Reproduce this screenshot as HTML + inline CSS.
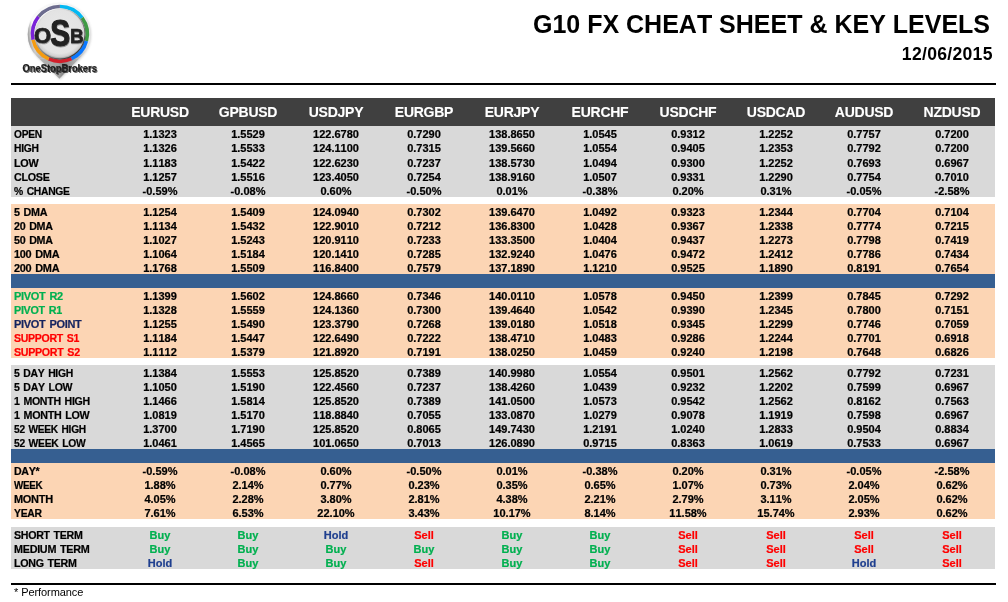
<!DOCTYPE html>
<html lang="en"><head><meta charset="utf-8"><title>G10 FX Cheat Sheet &amp; Key Levels</title>
<style>
html,body{margin:0;padding:0;background:#fff}
body{width:1008px;height:602px;position:relative;overflow:hidden;font-family:"Liberation Sans",Arial,sans-serif;font-weight:bold;color:#000;font-kerning:none}
.logo{position:absolute;left:0;top:0}
.title{position:absolute;right:18px;top:7px;font-size:25px;line-height:34px;white-space:nowrap}
.date{position:absolute;right:15.3px;top:42px;font-size:17.6px;line-height:24px;white-space:nowrap;letter-spacing:0.28px}
.rule{position:absolute;left:11px;width:985px;height:2px;background:#000}
.hd{position:absolute;left:11px;top:98px;width:984px;height:28px;background:#404040;color:#fff;font-size:14px;line-height:28px}
.hd span{position:absolute;top:0;width:88px;text-align:center;letter-spacing:-0.25px;-webkit-text-stroke:0.12px}
.sec{position:absolute;left:11px;width:984px}
.r{position:relative;width:984px;font-size:11px;white-space:nowrap;-webkit-text-stroke:0.22px}
.r b{position:absolute;left:3.3px;top:1px;font-weight:bold;letter-spacing:-0.3px;transform-origin:0 50%;display:block}
.r i{position:absolute;top:1px;width:88px;text-align:center;font-style:normal}
.foot{position:absolute;left:14px;top:585px;font-size:11px;line-height:14px;font-weight:normal;letter-spacing:-0.08px}
</style></head><body>
<svg class="logo" width="200" height="92" viewBox="0 0 200 92">
<defs>
<radialGradient id="disc" cx="50%" cy="46%" r="52%"><stop offset="0" stop-color="#e9e9e9"/><stop offset="0.82" stop-color="#e3e3e3"/><stop offset="0.94" stop-color="#cfcfcf"/><stop offset="1" stop-color="#9a9a9a"/></radialGradient>
<linearGradient id="pin" x1="0" y1="0.35" x2="1" y2="0.25"><stop offset="0" stop-color="#a4a4a4"/><stop offset="0.035" stop-color="#c9c9c9"/><stop offset="0.075" stop-color="#fafafa"/><stop offset="0.9" stop-color="#f4f4f4"/><stop offset="1" stop-color="#e4e4e4"/></linearGradient>
<linearGradient id="tip" x1="0" y1="0" x2="1" y2="0"><stop offset="0" stop-color="#7d7d7d"/><stop offset="0.12" stop-color="#b9b9b9"/><stop offset="0.5" stop-color="#a2a2a2"/><stop offset="0.55" stop-color="#8a8a8a"/><stop offset="0.9" stop-color="#c4c4c4"/><stop offset="1" stop-color="#d4d4d4"/></linearGradient>
<linearGradient id="bev" x1="0.15" y1="0.1" x2="0.8" y2="0.95"><stop offset="0" stop-color="#ffffff" stop-opacity="0.9"/><stop offset="0.45" stop-color="#9a9a9a"/><stop offset="1" stop-color="#333333"/></linearGradient>
<linearGradient id="fade" x1="0" y1="0" x2="0" y2="1"><stop offset="0" stop-color="#fff" stop-opacity="0"/><stop offset="1" stop-color="#fff" stop-opacity="1"/></linearGradient>
<mask id="tipm" maskUnits="userSpaceOnUse" x="0" y="0" width="200" height="92"><rect x="20" y="36.3" width="80" height="22" fill="url(#fade)"/><rect x="20" y="58.2" width="80" height="30" fill="#fff"/></mask>
<filter id="sh" x="-20%" y="-20%" width="140%" height="140%"><feGaussianBlur stdDeviation="1"/></filter>
<filter id="ts" x="-10%" y="-40%" width="120%" height="200%"><feGaussianBlur stdDeviation="0.6"/></filter>
<filter id="ls" x="-20%" y="-20%" width="140%" height="140%"><feGaussianBlur stdDeviation="0.5"/></filter>
</defs>
<path d="M59.4 78.8L37.00 56.61A31.4 31.4 0 1 1 81.50 56.31Z" fill="#9a9a9a" opacity="0.45" filter="url(#sh)" transform="translate(0.6,0.8)"/>
<path d="M59.4 78.8L37.00 56.61A31.4 31.4 0 1 1 81.50 56.31Z" fill="url(#pin)"/>
<path d="M59.4 78.8L37.00 56.61A31.4 31.4 0 0 1 27.80 36.30L90.40 36.30A31.4 31.4 0 0 1 81.50 56.31Z" fill="url(#tip)" mask="url(#tipm)"/>
<path d="M59.90 6.60A27.3 27.3 0 0 1 81.99 17.85" stroke="#04b8f2" stroke-width="3.8" fill="none"/><path d="M81.99 17.85A27.3 27.3 0 0 1 86.27 40.97" stroke="#3f9a45" stroke-width="3.8" fill="none"/><path d="M86.27 40.97A27.3 27.3 0 0 1 71.44 58.64" stroke="#0a78ff" stroke-width="3.8" fill="none"/><path d="M71.44 58.64A27.3 27.3 0 0 1 48.80 58.84" stroke="#d21f2b" stroke-width="3.8" fill="none"/><path d="M48.80 58.84A27.3 27.3 0 0 1 33.20 39.58" stroke="#f59b10" stroke-width="3.8" fill="none"/><path d="M33.20 39.58A27.3 27.3 0 0 1 38.68 16.72" stroke="#7a22d8" stroke-width="3.8" fill="none"/><path d="M38.68 16.72A27.3 27.3 0 0 1 59.90 6.60" stroke="#6c6c8e" stroke-width="3.8" fill="none"/>
<circle cx="59.9" cy="33.9" r="25.4" fill="url(#disc)"/>
<circle cx="59.9" cy="33.9" r="25.1" fill="none" stroke="url(#bev)" stroke-width="1.1"/>
<g font-family="'Liberation Sans',sans-serif" font-weight="bold" font-size="20" fill="#000" stroke="#000" stroke-width="0.6" stroke-linejoin="round" opacity="0.35" filter="url(#ls)">
<text transform="translate(34.5,43.6) scale(1.1,1.125)">O</text>
<text transform="translate(50.63,46.76) scale(1.488,1.885)">S</text>
<text transform="translate(70.45,43.64) scale(0.95,1.05)">B</text>
</g>
<g font-family="'Liberation Sans',sans-serif" font-weight="bold" font-size="20" fill="#222" stroke="#222" stroke-width="0.6" stroke-linejoin="round">
<text transform="translate(34.1,42.8) scale(1.1,1.125)">O</text>
<text transform="translate(50.23,45.96) scale(1.488,1.885)">S</text>
<text transform="translate(70.05,42.84) scale(0.95,1.05)">B</text>
</g>
<g font-family="'Liberation Sans',sans-serif" font-weight="bold" font-size="10.3">
<text transform="translate(23.6,72.7) scale(0.908,1)" fill="#000" opacity="0.6" filter="url(#ts)">OneStopBrokers</text>
<text transform="translate(22.6,71.6) scale(0.908,1)" fill="#1e1e1e" stroke="#1e1e1e" stroke-width="0.25">OneStopBrokers</text>
</g>
</svg><div class="title">G10 FX CHEAT SHEET &amp; KEY LEVELS</div>
<div class="date">12/06/2015</div>
<div class="rule" style="top:83px"></div>
<div class="hd"><span style="left:105px">EURUSD</span><span style="left:193px">GPBUSD</span><span style="left:281px">USDJPY</span><span style="left:369px">EURGBP</span><span style="left:457px">EURJPY</span><span style="left:545px">EURCHF</span><span style="left:633px">USDCHF</span><span style="left:721px">USDCAD</span><span style="left:809px">AUDUSD</span><span style="left:897px">NZDUSD</span></div>
<div class="sec" style="top:126px;height:71px;background:#d9d9d9"><div class="r" style="height:14px;line-height:14px"><b style="transform:scaleX(0.9254)">OPEN</b><i style="left:105px">1.1323</i><i style="left:193px">1.5529</i><i style="left:281px">122.6780</i><i style="left:369px">0.7290</i><i style="left:457px">138.8650</i><i style="left:545px">1.0545</i><i style="left:633px">0.9312</i><i style="left:721px">1.2252</i><i style="left:809px">0.7757</i><i style="left:897px">0.7200</i></div><div class="r" style="height:15px;line-height:15px"><b style="transform:scaleX(0.9363)">HIGH</b><i style="left:105px">1.1326</i><i style="left:193px">1.5533</i><i style="left:281px">124.1100</i><i style="left:369px">0.7315</i><i style="left:457px">139.5660</i><i style="left:545px">1.0554</i><i style="left:633px">0.9405</i><i style="left:721px">1.2353</i><i style="left:809px">0.7792</i><i style="left:897px">0.7200</i></div><div class="r" style="height:14px;line-height:14px"><b style="transform:scaleX(0.9808)">LOW</b><i style="left:105px">1.1183</i><i style="left:193px">1.5422</i><i style="left:281px">122.6230</i><i style="left:369px">0.7237</i><i style="left:457px">138.5730</i><i style="left:545px">1.0494</i><i style="left:633px">0.9300</i><i style="left:721px">1.2252</i><i style="left:809px">0.7693</i><i style="left:897px">0.6967</i></div><div class="r" style="height:14px;line-height:14px"><b style="transform:scaleX(0.9753)">CLOSE</b><i style="left:105px">1.1257</i><i style="left:193px">1.5516</i><i style="left:281px">123.4050</i><i style="left:369px">0.7254</i><i style="left:457px">138.9160</i><i style="left:545px">1.0507</i><i style="left:633px">0.9331</i><i style="left:721px">1.2290</i><i style="left:809px">0.7754</i><i style="left:897px">0.7010</i></div><div class="r" style="height:14px;line-height:14px"><b style="transform:scaleX(0.9396);word-spacing:1.2px">% CHANGE</b><i style="left:105px">-0.59%</i><i style="left:193px">-0.08%</i><i style="left:281px">0.60%</i><i style="left:369px">-0.50%</i><i style="left:457px">0.01%</i><i style="left:545px">-0.38%</i><i style="left:633px">0.20%</i><i style="left:721px">0.31%</i><i style="left:809px">-0.05%</i><i style="left:897px">-2.58%</i></div></div>
<div class="sec" style="top:204px;height:70px;background:#fcd5b4"><div class="r" style="height:14px;line-height:14px"><b style="transform:scaleX(0.9799);word-spacing:1.2px">5 DMA</b><i style="left:105px">1.1254</i><i style="left:193px">1.5409</i><i style="left:281px">124.0940</i><i style="left:369px">0.7302</i><i style="left:457px">139.6470</i><i style="left:545px">1.0492</i><i style="left:633px">0.9323</i><i style="left:721px">1.2344</i><i style="left:809px">0.7704</i><i style="left:897px">0.7104</i></div><div class="r" style="height:14px;line-height:14px"><b style="transform:scaleX(0.9723);word-spacing:1.2px">20 DMA</b><i style="left:105px">1.1134</i><i style="left:193px">1.5432</i><i style="left:281px">122.9010</i><i style="left:369px">0.7212</i><i style="left:457px">136.8300</i><i style="left:545px">1.0428</i><i style="left:633px">0.9367</i><i style="left:721px">1.2338</i><i style="left:809px">0.7774</i><i style="left:897px">0.7215</i></div><div class="r" style="height:14px;line-height:14px"><b style="transform:scaleX(0.9723);word-spacing:1.2px">50 DMA</b><i style="left:105px">1.1027</i><i style="left:193px">1.5243</i><i style="left:281px">120.9110</i><i style="left:369px">0.7233</i><i style="left:457px">133.3500</i><i style="left:545px">1.0404</i><i style="left:633px">0.9437</i><i style="left:721px">1.2273</i><i style="left:809px">0.7798</i><i style="left:897px">0.7419</i></div><div class="r" style="height:14px;line-height:14px"><b style="transform:scaleX(0.9934);word-spacing:1.2px">100 DMA</b><i style="left:105px">1.1064</i><i style="left:193px">1.5184</i><i style="left:281px">120.1410</i><i style="left:369px">0.7285</i><i style="left:457px">132.9240</i><i style="left:545px">1.0476</i><i style="left:633px">0.9472</i><i style="left:721px">1.2412</i><i style="left:809px">0.7786</i><i style="left:897px">0.7434</i></div><div class="r" style="height:14px;line-height:14px"><b style="transform:scaleX(0.9934);word-spacing:1.2px">200 DMA</b><i style="left:105px">1.1768</i><i style="left:193px">1.5509</i><i style="left:281px">116.8400</i><i style="left:369px">0.7579</i><i style="left:457px">137.1890</i><i style="left:545px">1.1210</i><i style="left:633px">0.9525</i><i style="left:721px">1.1890</i><i style="left:809px">0.8191</i><i style="left:897px">0.7654</i></div></div>
<div class="sec" style="top:274px;height:14px;background:#365f91"></div>
<div class="sec" style="top:288px;height:70px;background:#fcd5b4"><div class="r" style="height:14px;line-height:14px"><b style="transform:scaleX(0.9991);word-spacing:1.2px;color:#00b050">PIVOT R2</b><i style="left:105px">1.1399</i><i style="left:193px">1.5602</i><i style="left:281px">124.8660</i><i style="left:369px">0.7346</i><i style="left:457px">140.0110</i><i style="left:545px">1.0578</i><i style="left:633px">0.9450</i><i style="left:721px">1.2399</i><i style="left:809px">0.7845</i><i style="left:897px">0.7292</i></div><div class="r" style="height:14px;line-height:14px"><b style="transform:scaleX(0.9789);word-spacing:1.2px;color:#00b050">PIVOT R1</b><i style="left:105px">1.1328</i><i style="left:193px">1.5559</i><i style="left:281px">124.1360</i><i style="left:369px">0.7300</i><i style="left:457px">139.4640</i><i style="left:545px">1.0542</i><i style="left:633px">0.9390</i><i style="left:721px">1.2345</i><i style="left:809px">0.7800</i><i style="left:897px">0.7151</i></div><div class="r" style="height:14px;line-height:14px"><b style="transform:scaleX(0.9987);word-spacing:1.2px;color:#15245f">PIVOT POINT</b><i style="left:105px">1.1255</i><i style="left:193px">1.5490</i><i style="left:281px">123.3790</i><i style="left:369px">0.7268</i><i style="left:457px">139.0180</i><i style="left:545px">1.0518</i><i style="left:633px">0.9345</i><i style="left:721px">1.2299</i><i style="left:809px">0.7746</i><i style="left:897px">0.7059</i></div><div class="r" style="height:14px;line-height:14px"><b style="transform:scaleX(0.9586);word-spacing:1.2px;color:#ff0000">SUPPORT S1</b><i style="left:105px">1.1184</i><i style="left:193px">1.5447</i><i style="left:281px">122.6490</i><i style="left:369px">0.7222</i><i style="left:457px">138.4710</i><i style="left:545px">1.0483</i><i style="left:633px">0.9286</i><i style="left:721px">1.2244</i><i style="left:809px">0.7701</i><i style="left:897px">0.6918</i></div><div class="r" style="height:14px;line-height:14px"><b style="transform:scaleX(0.9690);word-spacing:1.2px;color:#ff0000">SUPPORT S2</b><i style="left:105px">1.1112</i><i style="left:193px">1.5379</i><i style="left:281px">121.8920</i><i style="left:369px">0.7191</i><i style="left:457px">138.0250</i><i style="left:545px">1.0459</i><i style="left:633px">0.9240</i><i style="left:721px">1.2198</i><i style="left:809px">0.7648</i><i style="left:897px">0.6826</i></div></div>
<div class="sec" style="top:365px;height:84px;background:#d9d9d9"><div class="r" style="height:14px;line-height:14px"><b style="transform:scaleX(0.9465);word-spacing:1.2px">5 DAY HIGH</b><i style="left:105px">1.1384</i><i style="left:193px">1.5553</i><i style="left:281px">125.8520</i><i style="left:369px">0.7389</i><i style="left:457px">140.9980</i><i style="left:545px">1.0554</i><i style="left:633px">0.9501</i><i style="left:721px">1.2562</i><i style="left:809px">0.7792</i><i style="left:897px">0.7231</i></div><div class="r" style="height:14px;line-height:14px"><b style="transform:scaleX(0.9578);word-spacing:1.2px">5 DAY LOW</b><i style="left:105px">1.1050</i><i style="left:193px">1.5190</i><i style="left:281px">122.4560</i><i style="left:369px">0.7237</i><i style="left:457px">138.4260</i><i style="left:545px">1.0439</i><i style="left:633px">0.9232</i><i style="left:721px">1.2202</i><i style="left:809px">0.7599</i><i style="left:897px">0.6967</i></div><div class="r" style="height:14px;line-height:14px"><b style="transform:scaleX(0.9618);word-spacing:1.2px">1 MONTH HIGH</b><i style="left:105px">1.1466</i><i style="left:193px">1.5814</i><i style="left:281px">125.8520</i><i style="left:369px">0.7389</i><i style="left:457px">141.0500</i><i style="left:545px">1.0573</i><i style="left:633px">0.9542</i><i style="left:721px">1.2562</i><i style="left:809px">0.8162</i><i style="left:897px">0.7563</i></div><div class="r" style="height:14px;line-height:14px"><b style="transform:scaleX(0.9743);word-spacing:1.2px">1 MONTH LOW</b><i style="left:105px">1.0819</i><i style="left:193px">1.5170</i><i style="left:281px">118.8840</i><i style="left:369px">0.7055</i><i style="left:457px">133.0870</i><i style="left:545px">1.0279</i><i style="left:633px">0.9078</i><i style="left:721px">1.1919</i><i style="left:809px">0.7598</i><i style="left:897px">0.6967</i></div><div class="r" style="height:14px;line-height:14px"><b style="transform:scaleX(0.9259);word-spacing:1.2px">52 WEEK HIGH</b><i style="left:105px">1.3700</i><i style="left:193px">1.7190</i><i style="left:281px">125.8520</i><i style="left:369px">0.8065</i><i style="left:457px">149.7430</i><i style="left:545px">1.2191</i><i style="left:633px">1.0240</i><i style="left:721px">1.2833</i><i style="left:809px">0.9504</i><i style="left:897px">0.8834</i></div><div class="r" style="height:14px;line-height:14px"><b style="transform:scaleX(0.9379);word-spacing:1.2px">52 WEEK LOW</b><i style="left:105px">1.0461</i><i style="left:193px">1.4565</i><i style="left:281px">101.0650</i><i style="left:369px">0.7013</i><i style="left:457px">126.0890</i><i style="left:545px">0.9715</i><i style="left:633px">0.8363</i><i style="left:721px">1.0619</i><i style="left:809px">0.7533</i><i style="left:897px">0.6967</i></div></div>
<div class="sec" style="top:449px;height:14px;background:#365f91"></div>
<div class="sec" style="top:463px;height:56px;background:#fcd5b4"><div class="r" style="height:14px;line-height:14px"><b style="transform:scaleX(0.9645)">DAY*</b><i style="left:105px">-0.59%</i><i style="left:193px">-0.08%</i><i style="left:281px">0.60%</i><i style="left:369px">-0.50%</i><i style="left:457px">0.01%</i><i style="left:545px">-0.38%</i><i style="left:633px">0.20%</i><i style="left:721px">0.31%</i><i style="left:809px">-0.05%</i><i style="left:897px">-2.58%</i></div><div class="r" style="height:14px;line-height:14px"><b style="transform:scaleX(0.8942)">WEEK</b><i style="left:105px">1.88%</i><i style="left:193px">2.14%</i><i style="left:281px">0.77%</i><i style="left:369px">0.23%</i><i style="left:457px">0.35%</i><i style="left:545px">0.65%</i><i style="left:633px">1.07%</i><i style="left:721px">0.73%</i><i style="left:809px">2.04%</i><i style="left:897px">0.62%</i></div><div class="r" style="height:14px;line-height:14px"><b style="transform:scaleX(0.9987)">MONTH</b><i style="left:105px">4.05%</i><i style="left:193px">2.28%</i><i style="left:281px">3.80%</i><i style="left:369px">2.81%</i><i style="left:457px">4.38%</i><i style="left:545px">2.21%</i><i style="left:633px">2.79%</i><i style="left:721px">3.11%</i><i style="left:809px">2.05%</i><i style="left:897px">0.62%</i></div><div class="r" style="height:14px;line-height:14px"><b style="transform:scaleX(0.9423)">YEAR</b><i style="left:105px">7.61%</i><i style="left:193px">6.53%</i><i style="left:281px">22.10%</i><i style="left:369px">3.43%</i><i style="left:457px">10.17%</i><i style="left:545px">8.14%</i><i style="left:633px">11.58%</i><i style="left:721px">15.74%</i><i style="left:809px">2.93%</i><i style="left:897px">0.62%</i></div></div>
<div class="sec" style="top:527px;height:42px;background:#d9d9d9"><div class="r" style="height:14px;line-height:14px"><b style="transform:scaleX(0.9666);word-spacing:1.2px">SHORT TERM</b><i style="left:105px;color:#00b050">Buy</i><i style="left:193px;color:#00b050">Buy</i><i style="left:281px;color:#1f3f8f">Hold</i><i style="left:369px;color:#ff0000">Sell</i><i style="left:457px;color:#00b050">Buy</i><i style="left:545px;color:#00b050">Buy</i><i style="left:633px;color:#ff0000">Sell</i><i style="left:721px;color:#ff0000">Sell</i><i style="left:809px;color:#ff0000">Sell</i><i style="left:897px;color:#ff0000">Sell</i></div><div class="r" style="height:14px;line-height:14px"><b style="transform:scaleX(0.9836);word-spacing:1.2px">MEDIUM TERM</b><i style="left:105px;color:#00b050">Buy</i><i style="left:193px;color:#00b050">Buy</i><i style="left:281px;color:#00b050">Buy</i><i style="left:369px;color:#00b050">Buy</i><i style="left:457px;color:#00b050">Buy</i><i style="left:545px;color:#00b050">Buy</i><i style="left:633px;color:#ff0000">Sell</i><i style="left:721px;color:#ff0000">Sell</i><i style="left:809px;color:#ff0000">Sell</i><i style="left:897px;color:#ff0000">Sell</i></div><div class="r" style="height:14px;line-height:14px"><b style="transform:scaleX(0.9715);word-spacing:1.2px">LONG TERM</b><i style="left:105px;color:#1f3f8f">Hold</i><i style="left:193px;color:#00b050">Buy</i><i style="left:281px;color:#00b050">Buy</i><i style="left:369px;color:#ff0000">Sell</i><i style="left:457px;color:#00b050">Buy</i><i style="left:545px;color:#00b050">Buy</i><i style="left:633px;color:#ff0000">Sell</i><i style="left:721px;color:#ff0000">Sell</i><i style="left:809px;color:#1f3f8f">Hold</i><i style="left:897px;color:#ff0000">Sell</i></div></div>
<div class="rule" style="top:583px"></div>
<div class="foot">* Performance</div>
</body></html>
